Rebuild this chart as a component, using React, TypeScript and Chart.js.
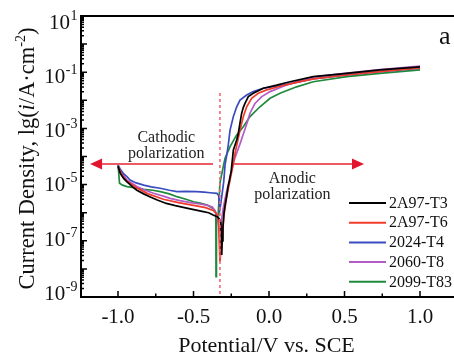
import React, { useEffect, useRef } from "react";
import { Chart, registerables } from "chart.js";

Chart.register(...registerables);

// ---------- data ----------
const seriesNames = ["2A97-T3", "2A97-T6", "2024-T4", "2060-T8", "2099-T83"];
const seriesColors = ["#000000", "#f23b2b", "#3a4cc0", "#b35cc6", "#1f8a3c"];

// Potential (V vs. SCE) and lg(i / A·cm^-2)
const potT3 = [-1.0, -0.985, -0.96, -0.94, -0.9, -0.875, -0.83, -0.79, -0.74, -0.68, -0.62, -0.545, -0.49, -0.435, -0.4, -0.37, -0.34, -0.325, -0.318, -0.316, -0.313, -0.31, -0.305, -0.298, -0.29, -0.28, -0.272, -0.262, -0.25, -0.236, -0.214, -0.203, -0.192, -0.181, -0.17, -0.159, -0.137, -0.104, -0.038, 0.051, 0.139, 0.293, 0.515, 0.735, 1.0];
const lgT3 = [-4.35, -4.6, -4.8, -4.9, -5.1, -5.2, -5.33, -5.43, -5.55, -5.67, -5.75, -5.84, -5.9, -5.96, -6.0, -6.08, -6.15, -6.25, -6.4, -7.0, -7.5, -7.0, -6.5, -6.0, -5.7, -5.4, -5.1, -4.85, -4.5, -3.77, -3.41, -3.17, -2.8, -2.46, -2.25, -2.11, -1.87, -1.75, -1.57, -1.46, -1.34, -1.16, -1.04, -0.92, -0.81];

const potT6 = [-1.0, -0.97, -0.94, -0.875, -0.8, -0.7, -0.6, -0.5, -0.42, -0.37, -0.345, -0.335, -0.33, -0.325, -0.311, -0.298, -0.278, -0.258, -0.238, -0.225, -0.192, -0.17, -0.148, -0.115, -0.071, -0.015, 0.073, 0.183, 0.293, 0.515, 0.735, 1.0];
const lgT6 = [-4.35, -4.7, -4.88, -5.12, -5.33, -5.52, -5.64, -5.74, -5.82, -5.92, -6.05, -6.3, -7.0, -7.75, -6.97, -6.08, -5.37, -4.84, -4.3, -3.89, -3.06, -2.58, -2.23, -1.93, -1.75, -1.63, -1.5, -1.36, -1.24, -1.1, -0.98, -0.85];

const potT4 = [-1.0, -0.985, -0.965, -0.94, -0.92, -0.88, -0.83, -0.78, -0.72, -0.66, -0.61, -0.55, -0.48, -0.43, -0.39, -0.345, -0.333, -0.326, -0.32, -0.313, -0.3, -0.291, -0.28, -0.27, -0.258, -0.236, -0.214, -0.192, -0.148, -0.104, -0.038, 0.051, 0.15, 0.293, 0.515, 0.735, 1.0];
const lgT4 = [-4.3, -4.45, -4.6, -4.72, -4.84, -4.94, -5.02, -5.08, -5.13, -5.2, -5.25, -5.24, -5.25, -5.27, -5.29, -5.31, -5.4, -5.9, -5.7, -5.43, -4.9, -4.3, -3.95, -3.6, -3.06, -2.58, -2.23, -1.99, -1.81, -1.69, -1.57, -1.5, -1.4, -1.24, -1.1, -0.98, -0.86];

const potT8 = [-1.0, -0.97, -0.94, -0.875, -0.82, -0.765, -0.7, -0.655, -0.59, -0.52, -0.46, -0.41, -0.375, -0.36, -0.345, -0.335, -0.325, -0.315, -0.305, -0.291, -0.27, -0.25, -0.232, -0.212, -0.192, -0.17, -0.148, -0.126, -0.093, -0.048, 0.007, 0.095, 0.2, 0.293, 0.515, 0.735, 1.0];
const lgT8 = [-4.4, -4.62, -4.84, -5.07, -5.2, -5.31, -5.41, -5.49, -5.57, -5.64, -5.69, -5.73, -5.8, -5.91, -6.1, -6.4, -6.6, -6.3, -5.9, -5.5, -5.0, -4.55, -4.15, -3.85, -3.55, -3.2, -2.85, -2.46, -2.11, -1.87, -1.69, -1.5, -1.3, -1.17, -1.03, -0.91, -0.78];

const potT83 = [-1.0, -0.995, -0.99, -0.97, -0.94, -0.88, -0.83, -0.77, -0.72, -0.66, -0.61, -0.55, -0.5, -0.45, -0.41, -0.38, -0.36, -0.352, -0.351, -0.348, -0.336, -0.325, -0.303, -0.291, -0.258, -0.214, -0.17, -0.126, -0.06, 0.007, 0.073, 0.183, 0.293, 0.515, 0.735, 1.0];
const lgT83 = [-4.23, -4.6, -4.95, -5.02, -5.07, -5.12, -5.17, -5.2, -5.25, -5.33, -5.43, -5.52, -5.61, -5.67, -5.73, -5.82, -5.91, -6.0, -8.28, -6.4, -6.02, -4.95, -4.36, -4.06, -3.65, -3.23, -2.94, -2.58, -2.23, -1.93, -1.75, -1.52, -1.34, -1.16, -1.04, -0.92];

const seriesPot = [potT3, potT6, potT4, potT8, potT83];
const seriesLg = [lgT3, lgT6, lgT4, lgT8, lgT83];

const xMajorTicks = [-1.0, -0.5, 0.0, 0.5, 1.0];
const xTickLabels = ["-1.0", "-0.5", "0.0", "0.5", "1.0"];
const xMinorTicks = [-0.75, -0.25, 0.25, 0.75];
const yLabelExponents = [1, -1, -3, -5, -7, -9];
const yMin = -9;
const yMax = 1;
const xMin = -1.245;
const xMax = 1.225;

// annotations (data coordinates)
const ecorrLine = -0.325;
const ecorrLineTop = -1.74;
const arrowLg = -4.27;
const cathodicArrow = [-0.371, -1.185]; // from, tip
const anodicArrow = [-0.232, 0.629];
const cathodicText = ["Cathodic", "polarization"];
const anodicText = ["Anodic", "polarization"];
const cathodicTextPos = [-0.68, -3.35];
const anodicTextPos = [0.155, -4.8];
const panelLabel = "a";

const SERIF = "'Liberation Serif', 'DejaVu Serif', serif";

function drawArrow(ctx: CanvasRenderingContext2D, x0: number, x1: number, y: number) {
  const dir = Math.sign(x1 - x0);
  const headLen = 12;
  const headHalf = 5.5;
  ctx.strokeStyle = "#ec5a66";
  ctx.lineWidth = 2;
  ctx.beginPath();
  ctx.moveTo(x0, y);
  ctx.lineTo(x1 - dir * headLen, y);
  ctx.stroke();
  ctx.fillStyle = "#e3152e";
  ctx.beginPath();
  ctx.moveTo(x1, y);
  ctx.lineTo(x1 - dir * headLen, y - headHalf);
  ctx.lineTo(x1 - dir * headLen, y + headHalf);
  ctx.closePath();
  ctx.fill();
}

const overlayPlugin = {
  id: "overlay",
  afterDatasetsDraw(chart: any) {
    const ctx: CanvasRenderingContext2D = chart.ctx;
    const xs = chart.scales.x;
    const ys = chart.scales.y;
    const { left, top, bottom } = chart.chartArea;
    const right = chart.width;
    ctx.save();

    // Ecorr dashed line
    const ex = xs.getPixelForValue(ecorrLine);
    ctx.strokeStyle = "#f2687c";
    ctx.lineWidth = 1.6;
    ctx.setLineDash([3, 3]);
    ctx.beginPath();
    ctx.moveTo(ex, ys.getPixelForValue(ecorrLineTop));
    ctx.lineTo(ex, bottom);
    ctx.stroke();
    ctx.setLineDash([]);

    // arrows
    const ay = ys.getPixelForValue(arrowLg);
    drawArrow(ctx, xs.getPixelForValue(cathodicArrow[0]), xs.getPixelForValue(cathodicArrow[1]), ay);
    drawArrow(ctx, xs.getPixelForValue(anodicArrow[0]), xs.getPixelForValue(anodicArrow[1]), ay);

    // annotation text
    ctx.fillStyle = "#222";
    ctx.font = `16px ${SERIF}`;
    ctx.textAlign = "center";
    ctx.textBaseline = "middle";
    const cx = xs.getPixelForValue(cathodicTextPos[0]);
    const cy = ys.getPixelForValue(cathodicTextPos[1]);
    ctx.fillText(cathodicText[0], cx, cy);
    ctx.fillText(cathodicText[1], cx, cy + 16);
    const axp = xs.getPixelForValue(anodicTextPos[0]);
    const ayp = ys.getPixelForValue(anodicTextPos[1]);
    ctx.fillText(anodicText[0], axp, ayp);
    ctx.fillText(anodicText[1], axp, ayp + 16);

    // axes frame
    ctx.strokeStyle = "#000";
    ctx.lineWidth = 2;
    ctx.beginPath();
    ctx.moveTo(right, top);
    ctx.lineTo(left, top);
    ctx.lineTo(left, bottom);
    ctx.lineTo(right, bottom);
    ctx.stroke();

    // y ticks (inward)
    ctx.lineWidth = 1.5;
    ctx.beginPath();
    for (let n = yMin; n <= yMax; n++) {
      const py = ys.getPixelForValue(n);
      ctx.moveTo(left, py);
      ctx.lineTo(left + 6, py);
      if (n < yMax) {
        for (let k = 2; k <= 9; k++) {
          const p2 = ys.getPixelForValue(n + Math.log10(k));
          ctx.moveTo(left, p2);
          ctx.lineTo(left + 3, p2);
        }
      }
    }
    // x ticks
    for (const v of xMajorTicks) {
      const px = xs.getPixelForValue(v);
      ctx.moveTo(px, bottom);
      ctx.lineTo(px, bottom - 6);
    }
    for (const v of xMinorTicks) {
      const px = xs.getPixelForValue(v);
      ctx.moveTo(px, bottom);
      ctx.lineTo(px, bottom - 3.5);
    }
    ctx.stroke();

    // y tick labels 10^n
    ctx.fillStyle = "#111";
    ctx.textBaseline = "alphabetic";
    ctx.textAlign = "left";
    for (const e of yLabelExponents) {
      const py = ys.getPixelForValue(e);
      const offset = 5.5 - 0.95 * (yMax - e);
      const baseY = py + offset + 7;
      const supStr = String(e);
      ctx.font = `14px ${SERIF}`;
      const supW = ctx.measureText(supStr).width;
      ctx.font = `21px ${SERIF}`;
      const baseW = ctx.measureText("10").width;
      const endX = left - 4;
      const startX = endX - supW - baseW;
      ctx.fillText("10", startX, baseY);
      ctx.font = `14px ${SERIF}`;
      ctx.fillText(supStr, startX + baseW + 0.5, baseY - 9);
    }

    // x tick labels
    ctx.font = `21px ${SERIF}`;
    ctx.textAlign = "center";
    xMajorTicks.forEach((v, i) => {
      ctx.fillText(xTickLabels[i], xs.getPixelForValue(v), bottom + 26);
    });

    // x title
    ctx.font = `22px ${SERIF}`;
    ctx.fillText("Potential/V vs. SCE", (left + xs.getPixelForValue(xMax)) / 2 - 1, 352);

    // y title (rotated, mixed styles)
    const segs = [
      { t: "Current Density, lg(", f: `22.5px ${SERIF}`, dy: 0 },
      { t: "i", f: `italic 22.5px ${SERIF}`, dy: 0 },
      { t: "/A\u00b7cm", f: `22.5px ${SERIF}`, dy: 0 },
      { t: "-2", f: `14px ${SERIF}`, dy: -9 },
      { t: ")", f: `22.5px ${SERIF}`, dy: 0 },
    ];
    let total = 0;
    const widths: number[] = [];
    for (const s of segs) {
      ctx.font = s.f;
      const w = ctx.measureText(s.t).width;
      widths.push(w);
      total += w;
    }
    ctx.save();
    ctx.translate(34, (top + bottom) / 2 + 2);
    ctx.rotate(-Math.PI / 2);
    ctx.textAlign = "left";
    let cur = -total / 2;
    segs.forEach((s, i) => {
      ctx.font = s.f;
      ctx.fillText(s.t, cur, s.dy);
      cur += widths[i];
    });
    ctx.restore();

    // legend
    const legX0 = 349;
    const legX1 = 386;
    const legY0 = 203;
    const legDy = 19.7;
    ctx.font = `16px ${SERIF}`;
    ctx.textAlign = "left";
    ctx.textBaseline = "middle";
    seriesNames.forEach((name, i) => {
      const y = legY0 + i * legDy;
      ctx.strokeStyle = seriesColors[i];
      ctx.lineWidth = 2;
      ctx.beginPath();
      ctx.moveTo(legX0, y);
      ctx.lineTo(legX1, y);
      ctx.stroke();
      ctx.fillStyle = "#111";
      ctx.fillText(name, legX1 + 3, y + 0.5);
    });

    // panel label
    ctx.font = `26px ${SERIF}`;
    ctx.textBaseline = "alphabetic";
    ctx.textAlign = "left";
    ctx.fillStyle = "#111";
    ctx.fillText(panelLabel, 439, 44);

    ctx.restore();
  },
};

export default function App() {
  const canvasRef = useRef<HTMLCanvasElement | null>(null);

  useEffect(() => {
    if (!canvasRef.current) return;
    const datasets = seriesNames.map((name, i) => ({
      label: name,
      data: seriesPot[i].map((x, j) => ({ x, y: seriesLg[i][j] })),
      borderColor: seriesColors[i],
      backgroundColor: seriesColors[i],
      borderWidth: 1.7,
      pointRadius: 0,
      tension: 0,
      fill: false,
    }));
    const chart = new Chart(canvasRef.current, {
      type: "line",
      data: { datasets },
      options: {
        animation: false,
        responsive: false,
        maintainAspectRatio: false,
        devicePixelRatio: 1,
        layout: { padding: { left: 81, top: 16, right: 0, bottom: 63 } },
        plugins: { legend: { display: false }, tooltip: { enabled: false } },
        scales: {
          x: { type: "linear", min: xMin, max: xMax, display: false },
          y: { type: "linear", min: yMin, max: yMax, display: false },
        },
      },
      plugins: [overlayPlugin],
    } as any);
    return () => chart.destroy();
  }, []);

  return (
    <div style={{ position: "absolute", left: 0, top: 0, width: 454, height: 360, background: "#fff" }}>
      <canvas ref={canvasRef} width={454} height={360} style={{ width: 454, height: 360, display: "block" }} />
    </div>
  );
}
